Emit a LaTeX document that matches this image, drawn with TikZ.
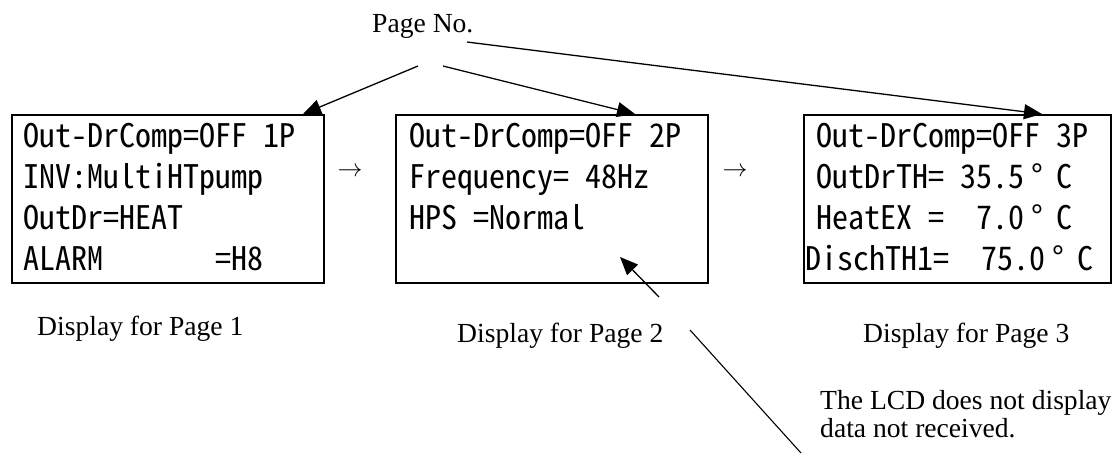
\documentclass[tikz,border=0pt]{standalone}
\usepackage{fontspec}
\setmainfont{Liberation Serif}
% half-width LCD-style characters
\newfontfamily\lcdfont[RawFeature=+hwid,FakeStretch=0.985]{Noto Sans CJK JP}
\usetikzlibrary{arrows.meta}
\newcommand\lcdsetup{\lcdfont\fontsize{32.5pt}{38pt}\selectfont
  \fontdimen2\font=16pt\relax\fontdimen3\font=0pt\relax\fontdimen4\font=0pt\relax}
\newcommand\lcddeg{\makebox[32pt][l]{\hspace{7pt}°}}
\begin{document}
\begin{tikzpicture}[x=1pt,y=-1pt,
  lcdbox/.style={draw, line width=2pt, inner sep=0pt, anchor=north west},
  lcdtext/.style={anchor=base west, inner sep=0pt, font=\lcdsetup},
  serif/.style={anchor=base west, inner sep=0pt, font=\fontsize{27.6pt}{33pt}\selectfont},
  pointer/.style={line width=1.3pt, -{Triangle[length=18pt,width=15pt]}},
  flow/.style={inner sep=0pt, font=\fontsize{24pt}{24pt}\selectfont}]
\path[fill=white, use as bounding box] (0,0) rectangle (1120,463);

% the three LCD screens
\node[lcdbox, minimum width=312pt, minimum height=168pt] (d1) at (11,114) {};
\node[lcdbox, minimum width=312pt, minimum height=168pt] (d2) at (395,114) {};
\node[lcdbox, minimum width=307pt, minimum height=168pt] (d3) at (803,114) {};

% page 1
\node[lcdtext] (d1a) at (23,147) {Out-DrComp=OFF 1P};
\node[lcdtext] (d1b) at (23,188) {INV:MultiHTpump};
\node[lcdtext] (d1c) at (23,229) {OutDr=HEAT};
\node[lcdtext] (d1d) at (23,270) {ALARM\ \ \ \ \ \ \ =H8};

% page 2
\node[lcdtext] (d2a) at (409,147) {Out-DrComp=OFF 2P};
\node[lcdtext] (d2b) at (409,188) {Frequency=\ 48Hz};
\node[lcdtext] (d2c) at (409,229) {HPS\ =Normal};

% page 3
\node[lcdtext] (d3a) at (816,147) {Out-DrComp=OFF 3P};
\node[lcdtext] (d3b) at (816,188) {OutDrTH=\ 35.5\lcddeg C};
\node[lcdtext] (d3c) at (816,229) {HeatEX\ =\ \ 7.0\lcddeg C};
\node[lcdtext] (d3d) at (805,270) {DischTH1=\ \ 75.0\lcddeg C};

% sequence arrows between screens
\node[flow] (f12) at (350,172) {$\rightarrow$};
\node[flow] (f23) at (735,172) {$\rightarrow$};

% captions
\node[serif] (pageno) at (372,32) {Page No.};
\node[serif] (cap1) at (37,335) {Display for Page 1};
\node[serif] (cap2) at (457,342) {Display for Page 2};
\node[serif] (cap3) at (863,342) {Display for Page 3};
\node[serif] (note1) at (820,409) {The LCD does not display};
\node[serif] (note2) at (820,437) {data not received.};

% pointers from the page number label
\coordinate (pn1) at (418,66);
\coordinate (pn2) at (443,66);
\coordinate (pn3) at (467,42);
\coordinate (t1) at (303,114);
\coordinate (t2) at (635,114);
\coordinate (t3) at (1042,114);
\draw[pointer] (pn1) -- (t1);
\draw[pointer] (pn2) -- (t2);
\draw[pointer] (pn3) -- (t3);

% pointer to the blank line of page 2
\coordinate (nt) at (659,297);
\coordinate (nh) at (620,257);
\draw[pointer] (nt) -- (nh);
\coordinate (la) at (690,330);
\coordinate (lb) at (801,453);
\draw[line width=1.1pt] (la) -- (lb);
\end{tikzpicture}
\end{document}
